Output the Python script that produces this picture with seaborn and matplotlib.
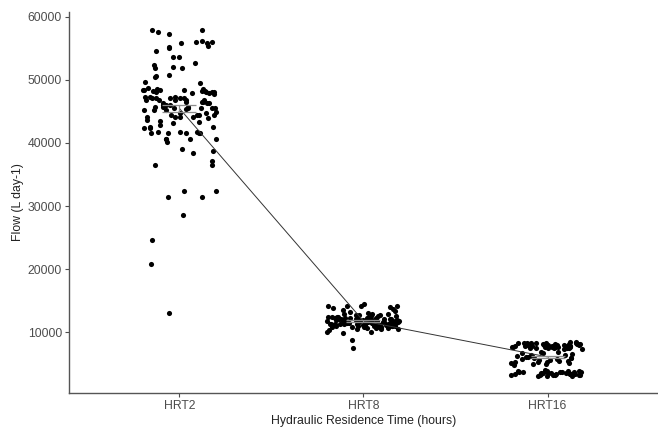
import matplotlib
matplotlib.use("Agg")
import matplotlib.pyplot as plt
import seaborn as sns
import pandas as pd
import numpy as np

categories = ["HRT2", "HRT8", "HRT16"]

hrt2 = [57930, 57290, 57930, 57610, 56020, 55230, 55860, 55860, 56180, 56020,
        55390, 55070, 54600, 53640, 53640, 52060, 51900, 52370, 51900, 52690,
        50790, 49520, 50630, 50470, 49680,
        48405, 48564, 48247, 48405, 48405, 48247, 48564, 48141, 48775, 48247,
        48035, 48405, 48141, 47877, 48035, 47877, 47718,
        47083, 47347, 46818, 47083, 47347, 47083, 47347, 46818, 47083, 46818,
        46553, 46818, 47083, 46818, 46289, 46553, 46553, 46289, 46289,
        45231, 46025, 45760, 45390, 45496, 45231, 45496, 45496, 45231, 45760,
        45496, 46025, 45496, 45760, 46025, 44966,
        44438, 44173, 44173, 44438, 44173, 44702, 44173, 44438, 44702, 43909,
        44438, 43644, 43486, 43380,
        42587, 43116, 42851, 42322, 42587, 42322, 41793, 41793, 41529, 41793, 41529,
        41529, 41529, 40100, 40630, 40630, 40630, 41529, 40630, 39040, 38410,
        38725, 37190, 36560, 36560,
        32380, 32380, 31370, 31370, 28620, 24550, 20790, 13070]

hrt8 = [7510, 8680, 9890, 10050, 10050, 10680, 12800, 14130, 14130, 14440,
        14170, 14130, 13800, 13600, 13500, 13900,
        12600, 12450, 12300, 12200, 12150, 12050, 11950, 11850, 11700, 11650,
        11550, 11450, 11350, 11250, 11150, 11050, 10950, 10850, 10750, 10650,
        12500, 12350, 12250, 12100, 12000, 11900, 11800, 11750, 11600, 11500,
        11400, 11300, 11200, 11100, 11000, 10900, 10800, 10700, 10600, 10550,
        12700, 12550, 12400, 12300, 12200, 12050, 11950, 11900, 11800, 11700,
        11600, 11550, 11450, 11350, 11300, 11200, 11150, 11050, 11000, 10900,
        12900, 12650, 12350, 12150, 11850, 11750, 11650, 11500, 11400, 11250,
        11100, 10950, 10850, 10750, 11600, 11450, 11800, 11700, 11950, 12100,
        13100, 12950, 13300, 10400, 10300, 10450, 12750, 12850, 11350, 11550,
        11650, 11850, 12000, 12250, 11250, 11150, 11500, 11700, 12400, 11900]

hrt16 = [8400, 8300, 8250, 8200, 8150, 8100, 8050, 8000, 7950, 7900,
         7850, 7800, 7750, 7700, 7650, 7600, 7550, 7500, 7450, 7400,
         8350, 8300, 8200, 8100, 8050, 7950, 7900, 7850, 7800, 7700,
         7650, 7550, 7500, 7400, 7350, 8250, 8150, 8000, 7900, 7800,
         7750, 7600, 7450, 7300, 8300, 8100, 7950, 7850, 7700, 7600,
         6900, 6750, 6600, 6500, 6350, 6250, 6100, 6000, 5900, 5800,
         5700, 5600, 5500, 5400, 5300, 5200, 5100, 5000, 4900, 4800,
         6700, 6400, 6200, 5950, 5650, 5450, 5250, 5050,
         3900, 3850, 3800, 3750, 3700, 3650, 3600, 3550, 3500, 3450,
         3400, 3350, 3300, 3250, 3200, 3150, 3100, 3050, 3000, 2950,
         3850, 3700, 3600, 3500, 3400, 3300, 3200, 3100, 3650, 3450,
         3350, 3550]

df = pd.DataFrame({
    "HRT": ["HRT2"] * len(hrt2) + ["HRT8"] * len(hrt8) + ["HRT16"] * len(hrt16),
    "Flow": hrt2 + hrt8 + hrt16,
})

sns.set_theme(style="white")
plt.rcParams["font.family"] = ["Liberation Sans", "DejaVu Sans"]

fig = plt.figure(figsize=(6.58, 4.29), dpi=100)
ax = fig.add_axes([0.1049, 0.0839, 0.895, 0.888])

sns.stripplot(data=df, x="HRT", y="Flow", order=categories, jitter=0.2,
              color="black", size=3.7, linewidth=0, ax=ax, zorder=2)

# mean line through the library
sns.pointplot(data=df, x="HRT", y="Flow", order=categories, estimator="mean",
              errorbar=None, color="#333333", linewidth=0.7,
              markers="o", markersize=0, ax=ax, zorder=3)

# standard-error bars computed from the data
stats = df.groupby("HRT")["Flow"].agg(["mean", "std", "count"]).reindex(categories)
se = stats["std"] / np.sqrt(stats["count"])
ax.errorbar(x=np.arange(len(categories)), y=stats["mean"].values, yerr=se.values,
            fmt="none", ecolor="#8c8c8c", elinewidth=0.9, capsize=12, capthick=0.9,
            zorder=4)

ax.set_xlim(-0.6, 2.6)
ax.set_ylim(318, 60784)
ax.set_yticks([10000, 20000, 30000, 40000, 50000, 60000])
ax.set_yticklabels(["10000", "20000", "30000", "40000", "50000", "60000"])
ax.set_xlabel("Hydraulic Residence Time (hours)", fontsize=8.8, color="#222222", labelpad=2)
ax.set_ylabel("Flow (L day-1)", fontsize=8.8, color="#222222", labelpad=3)
ax.tick_params(axis="both", which="both", direction="out", length=3, width=0.8,
               color="#4d4d4d", labelsize=8.8, labelcolor="#4d4d4d", pad=2,
               bottom=True, left=True)
for s in ["top", "right"]:
    ax.spines[s].set_visible(False)
for s in ["left", "bottom"]:
    ax.spines[s].set_color("#555555")
    ax.spines[s].set_linewidth(1.0)
ax.grid(False)

fig.savefig("out.png", dpi=100)
